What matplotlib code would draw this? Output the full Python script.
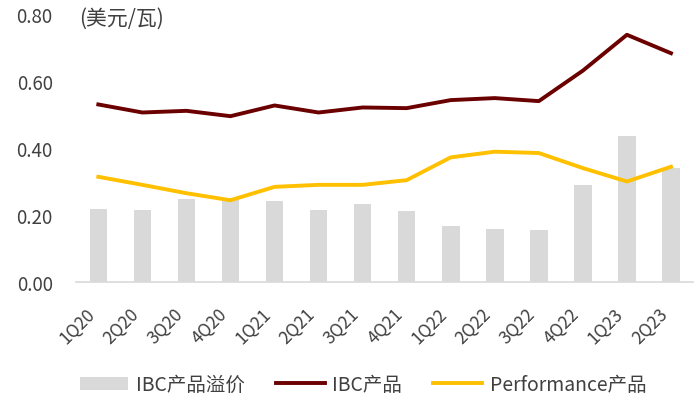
import matplotlib.pyplot as plt
import numpy as np
from matplotlib.transforms import ScaledTranslation

plt.rcParams['font.family'] = ['Noto Sans CJK SC', 'DejaVu Sans']

# data
quarters = ["1Q20", "2Q20", "3Q20", "4Q20", "1Q21", "2Q21", "3Q21", "4Q21",
            "1Q22", "2Q22", "3Q22", "4Q22", "1Q23", "2Q23"]
premium = [0.217, 0.216, 0.247, 0.245, 0.241, 0.216, 0.232, 0.212,
           0.168, 0.158, 0.155, 0.290, 0.437, 0.339]
ibc = [0.530, 0.506, 0.511, 0.495, 0.527, 0.506, 0.521, 0.519,
       0.543, 0.549, 0.540, 0.631, 0.738, 0.683]
performance = [0.314, 0.290, 0.265, 0.244, 0.284, 0.290, 0.290, 0.304,
               0.372, 0.389, 0.385, 0.340, 0.300, 0.344]

text_color = "#404040"
x = np.arange(len(quarters))

fig = plt.figure(figsize=(7, 4.06), dpi=100)
ax = fig.add_axes([0.109, 0.303, 0.881, 0.66])

b = ax.bar(x, premium, width=0.4, color="#d9d9d9", label="IBC产品溢价", zorder=1)
l1, = ax.plot(x, ibc, color="#6b0000", linewidth=2.8, label="IBC产品", zorder=3)
l2, = ax.plot(x, performance, color="#ffc000", linewidth=2.8, label="Performance产品", zorder=2)

ax.set_xlim(-0.5, len(quarters) - 0.5)
ax.set_ylim(0, 0.8)
ax.set_yticks([0, 0.2, 0.4, 0.6, 0.8])
ax.set_yticklabels(["%.2f" % v for v in [0, 0.2, 0.4, 0.6, 0.8]], fontsize=13.5)
ax.set_xticks(x)
ax.set_xticklabels(quarters, rotation=45, ha="right", va="top", fontsize=12.5)
# nudge rotated labels slightly right
shift = ScaledTranslation(5 / 72, 0, fig.dpi_scale_trans)
for lab in ax.get_xticklabels():
    lab.set_transform(lab.get_transform() + shift)

for s in ["top", "right", "left"]:
    ax.spines[s].set_visible(False)
ax.spines["bottom"].set_color("#d9d9d9")
ax.spines["bottom"].set_linewidth(1.2)
ax.tick_params(axis="both", length=0, colors=text_color)
ax.tick_params(axis="y", pad=17)
ax.tick_params(axis="x", pad=16)

ax.text(0.005, 0.985, "(美元/瓦)", transform=ax.transAxes, fontsize=15,
        color=text_color, ha="left", va="center")

leg = fig.legend([b, l1, l2], ["IBC产品溢价", "IBC产品", "Performance产品"],
                 loc="center left", bbox_to_anchor=(0.1, 0.05), ncol=3,
                 frameon=False, fontsize=14, handlelength=2.5, borderpad=0,
                 columnspacing=1.6, handletextpad=0.4)
for t in leg.get_texts():
    t.set_color(text_color)

fig.savefig("out.png", dpi=100)
